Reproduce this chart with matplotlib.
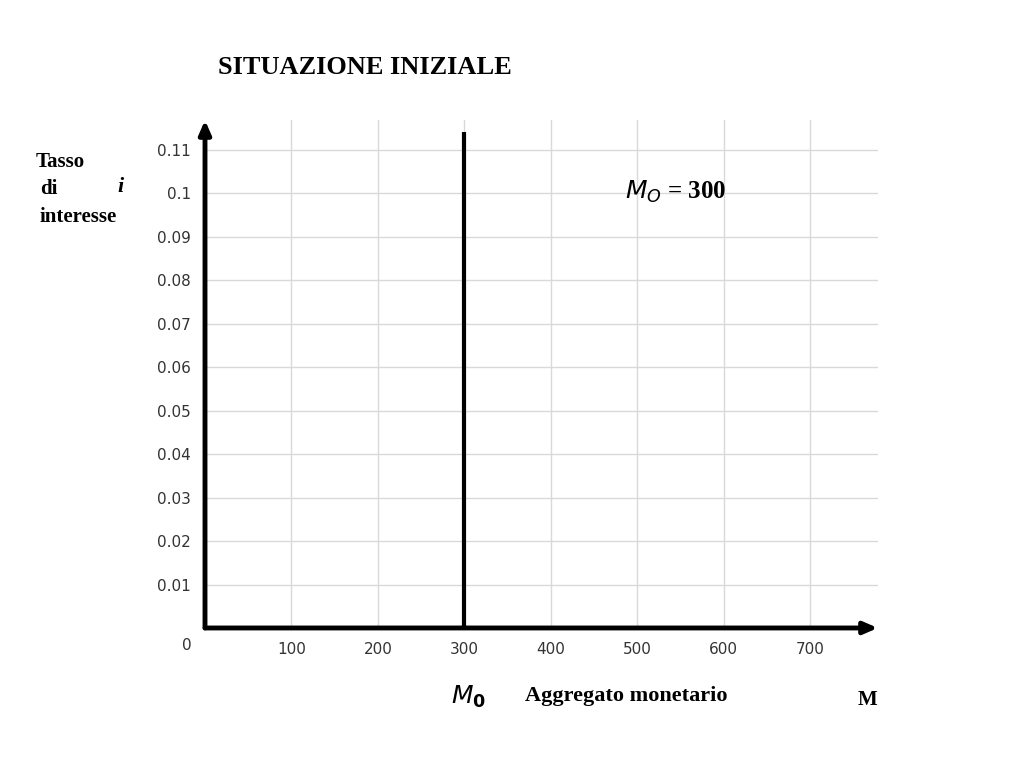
import matplotlib.pyplot as plt

x_ticks = [100, 200, 300, 400, 500, 600, 700]
y_ticks = [0.01, 0.02, 0.03, 0.04, 0.05, 0.06, 0.07, 0.08, 0.09, 0.1, 0.11]
y_labels = ['0.01', '0.02', '0.03', '0.04', '0.05', '0.06', '0.07', '0.08', '0.09', '0.1', '0.11']
m0 = 300
m0_top = 0.114

fig = plt.figure(figsize=(10.24, 7.8), dpi=100)
ax = fig.add_axes([0.2002, 0.1949, 0.657, 0.651])
ax.set_xlim(0, 778)
ax.set_ylim(0, 0.1168)

ax.set_xticks(x_ticks)
ax.set_yticks(y_ticks)
ax.set_yticklabels(y_labels)
ax.tick_params(length=0, labelsize=11, colors='#333333', pad=10)
ax.grid(True, color='#d9d9d9', linewidth=1)
for s in ax.spines.values():
    s.set_visible(False)

# axes with arrows
ax.annotate('', xy=(1.0, 0), xytext=(0, 0), xycoords='axes fraction',
            arrowprops=dict(arrowstyle='-|>,head_width=0.35,head_length=0.8', lw=3.5, color='black',
                            shrinkA=0, shrinkB=0))
ax.annotate('', xy=(0, 1.0), xytext=(0, 0), xycoords='axes fraction',
            arrowprops=dict(arrowstyle='-|>,head_width=0.35,head_length=0.8', lw=3.5, color='black',
                            shrinkA=0, shrinkB=0))

# money supply
ax.plot([m0, m0], [0, m0_top], color='black', lw=3, solid_capstyle='butt')

fig.text(187 / 1024, 1 - 645 / 780, '0', fontsize=11, color='#333333', ha='center', va='center')

serif = 'Liberation Serif'
fig.text(218 / 1024, 1 - 67 / 780, 'SITUAZIONE INIZIALE', family=serif, weight='bold', fontsize=19, va='center')
fig.text(36 / 1024, 1 - 162 / 780, 'Tasso', family=serif, weight='bold', fontsize=15, va='center')
fig.text(40 / 1024, 1 - 189 / 780, 'di', family=serif, weight='bold', fontsize=15, va='center')
fig.text(117 / 1024, 1 - 187 / 780, 'i', family=serif, weight='bold', style='italic', fontsize=16, va='center')
fig.text(40 / 1024, 1 - 217 / 780, 'interesse', family=serif, weight='bold', fontsize=15, va='center')
fig.text(625 / 1024, 1 - 192 / 780, r'$\boldsymbol{M_O}$ = 300', family=serif, weight='bold', fontsize=18, va='center')
fig.text(451 / 1024, 1 - 697 / 780, r'$\mathbf{\mathit{M}_0}$', family=serif, fontsize=18, va='center')
fig.text(525 / 1024, 1 - 696 / 780, 'Aggregato monetario', family=serif, weight='bold', fontsize=16, va='center')
fig.text(858 / 1024, 1 - 700 / 780, 'M', family=serif, weight='bold', fontsize=15, va='center')

fig.savefig('out.png')
